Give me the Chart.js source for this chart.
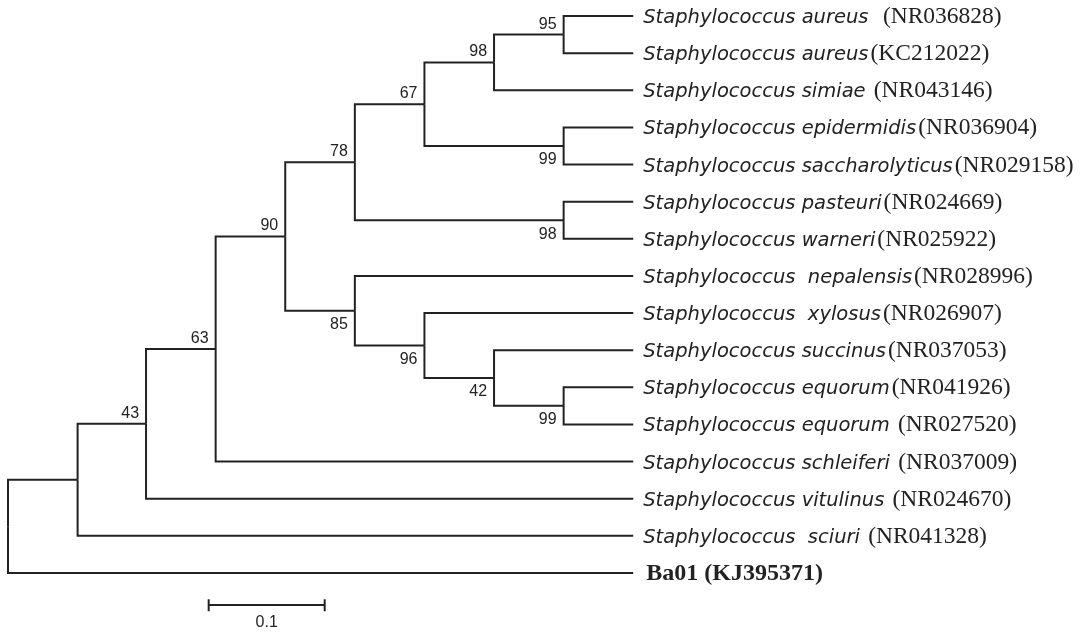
<!DOCTYPE html>
<html>
<head>
<meta charset="utf-8">
<script src="https://cdn.jsdelivr.net/npm/chart.js@4/dist/chart.umd.min.js"></script>
<style>
  body { margin: 0; background: #fff; }
  #wrap { width: 1089px; height: 634px; }
</style>
</head>
<body>
<div id="wrap"><canvas id="tree" width="1089" height="634"></canvas></div>
<script>
// leaves, top to bottom
const leafNames = [
  "Staphylococcus aureus  ", "Staphylococcus aureus", "Staphylococcus simiae ",
  "Staphylococcus epidermidis", "Staphylococcus saccharolyticus", "Staphylococcus pasteuri",
  "Staphylococcus warneri", "Staphylococcus  nepalensis", "Staphylococcus  xylosus",
  "Staphylococcus succinus", "Staphylococcus equorum", "Staphylococcus equorum ",
  "Staphylococcus schleiferi ", "Staphylococcus vitulinus ", "Staphylococcus  sciuri ",
  "Ba01"
];
const leafAccessions = [
  "(NR036828)", "(KC212022)", "(NR043146)", "(NR036904)", "(NR029158)", "(NR024669)",
  "(NR025922)", "(NR028996)", "(NR026907)", "(NR037053)", "(NR041926)", "(NR027520)",
  "(NR037009)", "(NR024670)", "(NR041328)", "(KJ395371)"
];
const tipDistance = 0.539;

// internal nodes: children are leaf indexes (numbers) or node ids (strings)
const nodeIds       = ["root", "A", "B", "C", "E", "I", "J", "K", "L", "M", "N", "D", "F", "G", "H"];
const nodeChildren  = [["A", 15], ["B", 14], ["C", 13], ["E", 12], ["I", "D"], ["J", "N"], ["K", "M"],
                       ["L", 2], [0, 1], [3, 4], [5, 6], [7, "F"], [8, "G"], [9, "H"], [10, 11]];
const nodeDistance  = [0, 0.060, 0.119, 0.179, 0.239, 0.299, 0.359, 0.419, 0.479, 0.479, 0.479,
                       0.299, 0.359, 0.419, 0.479];
const nodeBootstrap = [null, null, 43, 63, 90, 78, 67, 98, 95, 99, 98, 85, 96, 42, 99];

const scaleBarStart = 0.173;
const scaleBarLength = 0.1;
const scaleBarLabel = "0.1";

const lineColor = "#222";

// work out node positions
const pos = {};
function place(ref) {
  if (typeof ref === "number") return { x: tipDistance, y: ref };
  if (pos[ref]) return pos[ref];
  const i = nodeIds.indexOf(ref);
  const kids = nodeChildren[i].map(place);
  pos[ref] = { x: nodeDistance[i], y: (kids[0].y + kids[kids.length - 1].y) / 2 };
  return pos[ref];
}
place("root");

const datasets = [];
const labels = [];
nodeIds.forEach((id, i) => {
  const p = pos[id];
  nodeChildren[i].forEach((c) => {
    const q = place(c);
    datasets.push({
      data: [{ x: p.x, y: p.y }, { x: p.x, y: q.y }, { x: q.x, y: q.y }],
      showLine: true, borderColor: lineColor, borderWidth: 2, pointRadius: 0, fill: false
    });
  });
});
// child order tells where the bootstrap goes (above first child, below second)
nodeIds.forEach((id, i) => {
  if (nodeBootstrap[i] === null) return;
  const parent = nodeChildren.findIndex((ch) => ch.includes(id));
  const below = parent >= 0 && nodeChildren[parent].indexOf(id) > 0;
  labels.push({ x: pos[id].x, y: pos[id].y, text: String(nodeBootstrap[i]), below });
});

// scale bar
const barY = 15.86;
datasets.push({
  data: [{ x: scaleBarStart, y: barY }, { x: scaleBarStart + scaleBarLength, y: barY }],
  showLine: true, borderColor: lineColor, borderWidth: 2, pointRadius: 0
});
[scaleBarStart, scaleBarStart + scaleBarLength].forEach((bx) => {
  datasets.push({
    data: [{ x: bx, y: barY - 0.15 }, { x: bx, y: barY + 0.17 }],
    showLine: true, borderColor: lineColor, borderWidth: 2, pointRadius: 0
  });
});

const textPlugin = {
  id: "treeText",
  afterDatasetsDraw(chart) {
    const ctx = chart.ctx;
    const xs = chart.scales.x, ys = chart.scales.y;
    ctx.save();
    ctx.fillStyle = "#222";

    // bootstrap values
    ctx.font = "16px 'Liberation Sans', Arial, sans-serif";
    ctx.textAlign = "right";
    labels.forEach((l) => {
      const px = xs.getPixelForValue(l.x) - 7;
      const py = ys.getPixelForValue(l.y);
      if (l.below) {
        ctx.textBaseline = "top";
        ctx.fillText(l.text, px, py + 6);
      } else {
        ctx.textBaseline = "alphabetic";
        ctx.fillText(l.text, px, py - 6);
      }
    });

    // leaf names
    ctx.textAlign = "left";
    ctx.textBaseline = "alphabetic";
    leafNames.forEach((name, i) => {
      const py = ys.getPixelForValue(i) + 7;
      let px = xs.getPixelForValue(tipDistance) + 10;
      if (name === "Ba01") {
        ctx.font = "bold 24px 'Liberation Serif', 'Times New Roman', serif";
        ctx.fillText(name + " " + leafAccessions[i], px + 3, py);
        return;
      }
      ctx.font = "italic 19.5px 'DejaVu Sans', Verdana, sans-serif";
      ctx.fillText(name, px, py);
      px += ctx.measureText(name).width + 2;
      ctx.font = "23.5px 'Liberation Serif', 'Times New Roman', serif";
      ctx.fillText(leafAccessions[i], px, py);
    });

    // scale bar label
    ctx.font = "16px 'Liberation Sans', Arial, sans-serif";
    ctx.textAlign = "center";
    ctx.textBaseline = "top";
    ctx.fillText(scaleBarLabel, xs.getPixelForValue(scaleBarStart + scaleBarLength / 2), ys.getPixelForValue(barY) + 10);
    ctx.restore();
  }
};

new Chart(document.getElementById("tree").getContext("2d"), {
  type: "scatter",
  data: { datasets },
  options: {
    responsive: false,
    animation: false,
    layout: { padding: 0 },
    scales: {
      x: { type: "linear", display: false, min: -0.0069, max: 0.9319 },
      y: { type: "linear", display: false, reverse: true, min: -0.431, max: 16.644 }
    },
    plugins: { legend: { display: false }, tooltip: { enabled: false } }
  },
  plugins: [textPlugin]
});
</script>
</body>
</html>
